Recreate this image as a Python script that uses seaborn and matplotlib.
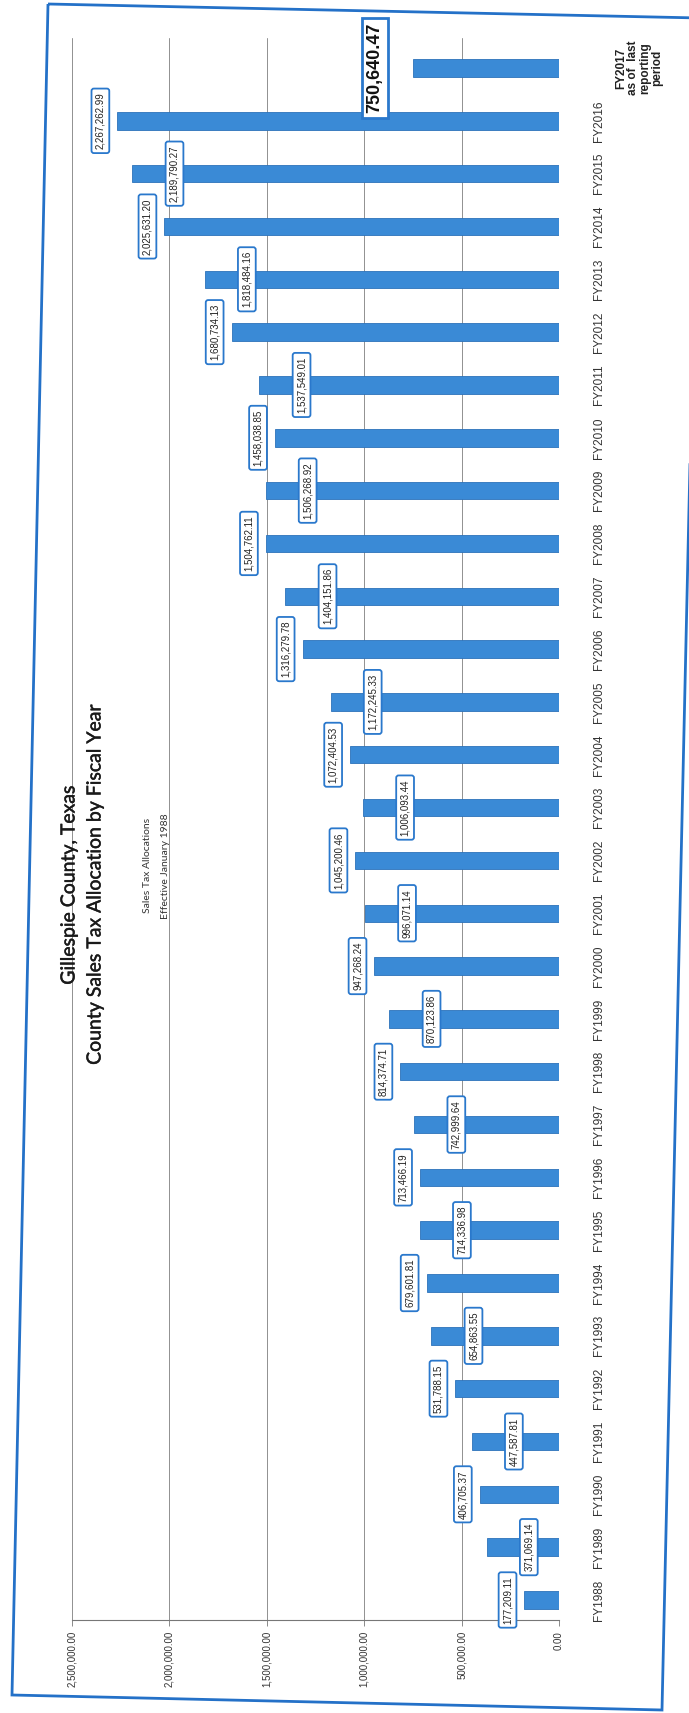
import numpy as np
import pandas as pd
import matplotlib
matplotlib.use("Agg")
import matplotlib.pyplot as plt
import matplotlib.patheffects as pe
import seaborn as sns
from matplotlib.patches import Polygon
from matplotlib.ticker import FuncFormatter

# Sales tax allocation by fiscal year
years = ["FY1988", "FY1989", "FY1990", "FY1991", "FY1992", "FY1993", "FY1994",
         "FY1995", "FY1996", "FY1997", "FY1998", "FY1999", "FY2000", "FY2001",
         "FY2002", "FY2003", "FY2004", "FY2005", "FY2006", "FY2007", "FY2008",
         "FY2009", "FY2010", "FY2011", "FY2012", "FY2013", "FY2014", "FY2015",
         "FY2016", "FY2017"]
amounts = [177209.11, 371069.14, 406705.37, 447587.81, 531788.15, 654863.55,
           679601.81, 714336.98, 713466.19, 742999.64, 814374.71, 870123.86,
           947268.24, 996071.14, 1045200.46, 1006093.44, 1072404.53, 1172245.33,
           1316279.78, 1404151.86, 1504762.11, 1506268.92, 1458038.85, 1537549.01,
           1680734.13, 1818484.16, 2025631.20, 2189790.27, 2267262.99, 750640.47]
value_ticks = [0, 500000, 1000000, 1500000, 2000000, 2500000]
fy2017_note = "FY2017\nas of  last\nreporting\nperiod"

BAR = "#3a8ad6"
BOX = "#2a78cc"

sns.set_theme(style="white")
plt.rcParams["font.family"] = ["Liberation Sans", "DejaVu Sans"]

W, H = 689, 1713
fig = plt.figure(figsize=(W / 100, H / 100), dpi=100)
fig.patch.set_facecolor("white")


def fx(px):
    return px / W


def fy(py):
    return 1 - py / H


# page is scanned sideways: value axis runs right -> left, years bottom -> top
ax = fig.add_axes([fx(72), fy(1620), fx(559) - fx(72), fy(38) - fy(1620)])
df = pd.DataFrame({"year": years, "amount": amounts})
order = years[::-1]
sns.barplot(data=df, x="amount", y="year", order=order, orient="h",
            color=BAR, saturation=1, width=0.33, errorbar=None,
            edgecolor="#2c72ba", linewidth=0.6, ax=ax)

ax.set_xlim(2500000, 0)
ax.set_ylim(29.379, -0.568)
ax.set_xlabel("")
ax.set_ylabel("")

ax.set_xticks(value_ticks)
ax.xaxis.set_major_formatter(FuncFormatter(lambda v, p: f"{v:,.2f}"))
ax.tick_params(axis="x", bottom=True, length=4, width=0.6, color="#777777",
               labelsize=7, labelcolor="#333333", rotation=90, pad=4)

ax.yaxis.tick_right()
ax.tick_params(axis="y", length=0, labelsize=8.5, labelcolor="#333333",
               rotation=90, pad=29)
ylabels = [t.get_text() for t in ax.get_yticklabels()]
ax.set_yticks(range(len(order)))
ax.set_yticklabels(["" if t == "FY2017" else t for t in ylabels])
for t in ax.get_yticklabels():
    t.set_ha("center")
    t.set_va("center")

ax.grid(axis="x", color="#909090", lw=0.7)
ax.grid(axis="y", visible=False)
ax.set_axisbelow(True)
for s in ["top", "left", "right"]:
    ax.spines[s].set_visible(False)
ax.spines["bottom"].set_color("#777777")
ax.spines["bottom"].set_linewidth(0.8)

# value labels: alternate between just past the bar end and inside the bar
for i, (yr, v) in enumerate(zip(years, amounts)):
    pos = order.index(yr)
    txt = f"{v:,.2f}"
    if yr == "FY2017":
        ax.text(v + 195000, pos, txt, rotation=90, ha="center", va="center",
                fontsize=13, fontweight="bold", color="#111111",
                bbox=dict(boxstyle="square,pad=0.25", fc="white", ec=BOX, lw=2))
        continue
    xpos = v + 87000 if i % 2 == 0 else v - 216000
    ax.text(xpos, pos, txt, rotation=90, ha="center", va="center",
            fontsize=7, color="#222222",
            bbox=dict(boxstyle="round,pad=0.4,rounding_size=0.25",
                      fc="white", ec=BOX, lw=1.3))

ax.text(1.164, order.index("FY2017"), fy2017_note, transform=ax.get_yaxis_transform(),
        rotation=90, ha="center", va="center", fontsize=8.5, fontweight="bold",
        color="#222222", linespacing=1.0, multialignment="center")

# titles (scan makes them look a bit heavy, so add a thin stroke)
title_font = ["Lato", "DejaVu Sans"]
heavy = [pe.withStroke(linewidth=0.3, foreground="#1a1a1a")]
fig.text(fx(69), fy(885), "Gillespie County, Texas", rotation=90, ha="center",
         va="center", fontsize=14, family=title_font, color="#1a1a1a",
         path_effects=heavy)
fig.text(fx(95), fy(884), "County Sales Tax Allocation by Fiscal Year", rotation=90,
         ha="center", va="center", fontsize=14, family=title_font, color="#1a1a1a",
         path_effects=heavy)
fig.text(fx(147), fy(865), "Sales Tax Allocations", rotation=90, ha="center",
         va="center", fontsize=7.5, family=title_font, color="#333333")
fig.text(fx(165), fy(866), "Effective January 1988", rotation=90, ha="center",
         va="center", fontsize=7.5, family=title_font, color="#333333")

# blue page frame (slightly tilted in the scan)
frame = Polygon([(fx(48), fy(4)), (fx(700), fy(18)), (fx(662), fy(1710)), (fx(12), fy(1695))],
                closed=True, fill=False, ec="#2471c8", lw=2, transform=fig.transFigure)
fig.add_artist(frame)

fig.savefig("out.png", dpi=100)
